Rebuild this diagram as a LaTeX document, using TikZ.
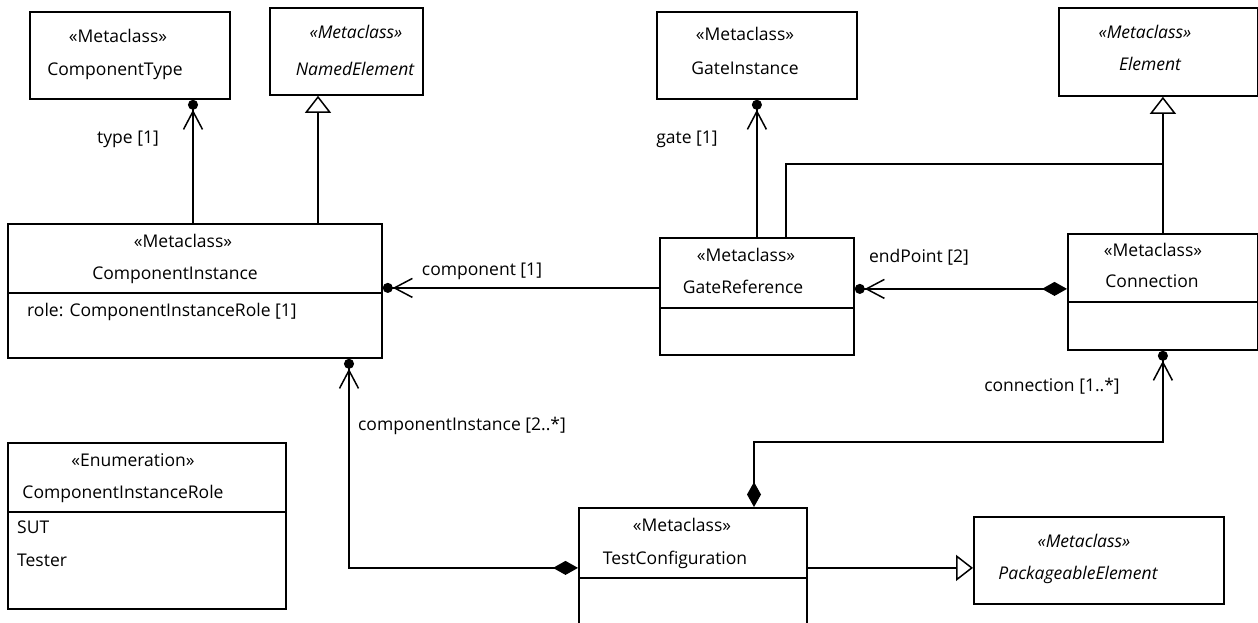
\documentclass[tikz,border=0pt]{standalone}
\usepackage{fontspec}
\setmainfont{Open Sans}
\usepackage{tikz}
\usetikzlibrary{arrows.meta, positioning, calc}

\tikzset{
  umlclass/.style={
    draw, line width=1.8pt, inner sep=0pt, anchor=north west
  },
  umlsep/.style={line width=1.5pt},
  umltext/.style={
    inner sep=0pt, text height=12pt, text depth=4pt,
    font=\fontsize{17.5}{20}\selectfont
  },
  umlit/.style={umltext, font=\fontsize{17.5}{20}\selectfont\itshape},
  conn/.style={line width=1.5pt},
  assoc/.style={
    conn, -{Straight Barb[length=18pt,width=19pt] Circle[length=10pt]}
  },
  compassoc/.style={
    conn, {Diamond[length=25pt,width=14pt]}-{Straight Barb[length=18pt,width=19pt] Circle[length=10pt]}
  },
  gener/.style={
    conn, -{Triangle[open,length=17pt,width=26pt,fill=white]}
  }
}

\begin{document}
\begin{tikzpicture}[x=1pt, y=-1pt]
  \clip (0,0) rectangle (1258,623);

  % top row
  \node[umlclass, minimum width=200pt, minimum height=87pt] (ct) at (29,11) {};
  \node[umltext] (ct-st) at (118,39) {«Metaclass»};
  \node[umltext] (ct-nm) at (115,72) {ComponentType};

  \node[umlclass, minimum width=153pt, minimum height=87pt] (ne) at (269,7) {};
  \node[umlit] (ne-st) at (356,35) {«Metaclass»};
  \node[umlit] (ne-nm) at (355,72) {NamedElement};

  \node[umlclass, minimum width=200pt, minimum height=87pt] (gi) at (656,11) {};
  \node[umltext] (gi-st) at (745,37) {«Metaclass»};
  \node[umltext] (gi-nm) at (745,71) {GateInstance};

  \node[umlclass, minimum width=199pt, minimum height=88pt] (el) at (1058,7) {};
  \node[umlit] (el-st) at (1145,35) {«Metaclass»};
  \node[umlit] (el-nm) at (1150,67) {Element};

  % middle row
  \node[umlclass, minimum width=374pt, minimum height=134pt] (ci) at (7,223) {};
  \draw[umlsep] ([yshift=-70pt]ci.north west) -- ([yshift=-70pt]ci.north east);
  \node[umltext] (ci-st) at (183,243) {«Metaclass»};
  \node[umltext] (ci-nm) at (175,275) {ComponentInstance};
  \node[umltext, anchor=west] (ci-role) at (27,312) {role: ComponentInstanceRole [1]};

  \node[umlclass, minimum width=194pt, minimum height=117pt] (gr) at (659,237) {};
  \draw[umlsep] ([yshift=-71pt]gr.north west) -- ([yshift=-71pt]gr.north east);
  \node[umltext] (gr-st) at (746,257) {«Metaclass»};
  \node[umltext] (gr-nm) at (743,289) {GateReference};

  \node[umlclass, minimum width=190pt, minimum height=116pt] (cn) at (1067,233) {};
  \draw[umlsep] ([yshift=-69pt]cn.north west) -- ([yshift=-69pt]cn.north east);
  \node[umltext] (cn-st) at (1153,252) {«Metaclass»};
  \node[umltext] (cn-nm) at (1152,283) {Connection};

  % bottom row
  \node[umlclass, minimum width=278pt, minimum height=166pt] (en) at (7,442) {};
  \draw[umlsep] ([yshift=-70pt]en.north west) -- ([yshift=-70pt]en.north east);
  \node[umltext] (en-st) at (133,462) {«Enumeration»};
  \node[umltext] (en-nm) at (123,494) {ComponentInstanceRole};
  \node[umltext, anchor=west] (en-sut) at (17,529) {SUT};
  \node[umltext, anchor=west] (en-tst) at (17,562) {Tester};

  \node[umlclass, minimum width=228pt, minimum height=133pt] (tc) at (578,507) {};
  \draw[umlsep] ([yshift=-71pt]tc.north west) -- ([yshift=-71pt]tc.north east);
  \node[umltext] (tc-st) at (682,527) {«Metaclass»};
  \node[umltext] (tc-nm) at (675,560) {TestConfiguration};

  \node[umlclass, minimum width=250pt, minimum height=87pt] (pe) at (973,516) {};
  \node[umlit] (pe-st) at (1084,543) {«Metaclass»};
  \node[umlit] (pe-nm) at (1078,575) {PackageableElement};

  % generalizations
  \coordinate (jn) at (1162,164);
  \draw[gener] ([xshift=311pt]ci.north west) -- ([xshift=49pt]ne.south west);
  \draw[gener] (cn.north) -- (cn.north |- el.south);
  \draw[conn] ([xshift=127pt]gr.north west) |- (jn);
  \draw[gener] ([yshift=6.5pt]tc.east) -- ([yshift=-7.5pt]pe.west);

  % associations
  \draw[assoc] ([xshift=186pt]ci.north west) -- ([xshift=164pt]ct.south west);
  \draw[assoc] (gr.north) -- (gi.south);
  \draw[assoc] ([yshift=8.5pt]gr.west) -- ([yshift=3pt]ci.east);
  \draw[compassoc] ([yshift=3pt]cn.west) -- ([yshift=7.5pt]gr.east);
  \draw[compassoc] ([yshift=6.5pt]tc.west) -| ([xshift=342pt]ci.south west);
  \draw[compassoc] ([xshift=176pt]tc.north west) -- ++(0,-65) -| (cn.south);

  % role names
  \node[umltext] (l-type) at (128,140) {type [1]};
  \node[umltext] (l-gate) at (687,140) {gate [1]};
  \node[umltext] (l-comp) at (482,271) {component [1]};
  \node[umltext] (l-endp) at (919,258) {endPoint [2]};
  \node[umltext] (l-cins) at (462,426) {componentInstance [2..*]};
  \node[umltext] (l-conn) at (1052,387) {connection [1..*]};
\end{tikzpicture}
\end{document}
